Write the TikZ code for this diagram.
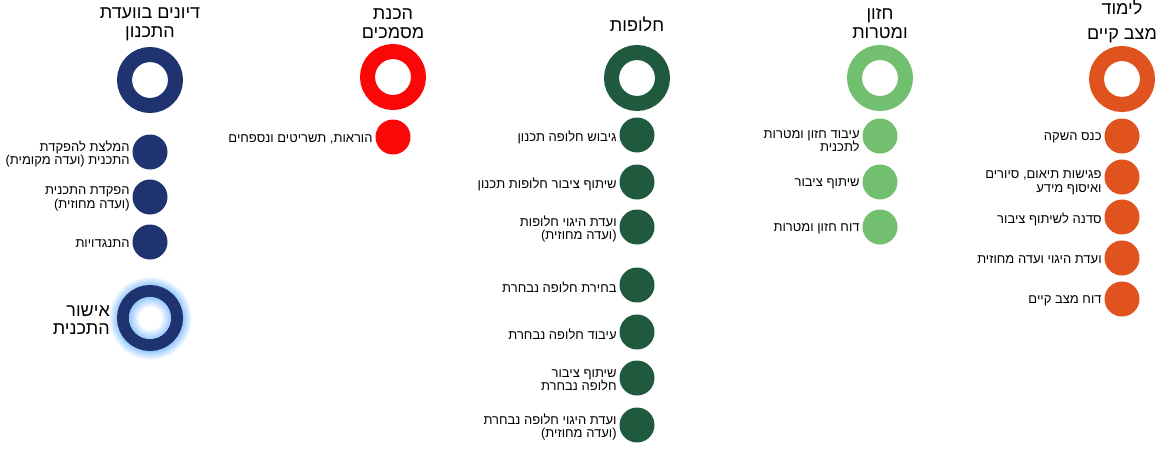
\documentclass[tikz,border=0pt]{standalone}
\usepackage{fontspec}
\usetikzlibrary{positioning}
\TeXXeTstate=1
\newfontfamily\hebfont[Script=Hebrew]{Liberation Sans}
\newcommand{\rl}[1]{\beginR #1\endR}
\definecolor{navy}{RGB}{31,51,112}
\definecolor{redstep}{RGB}{250,8,8}
\definecolor{darkgreen}{RGB}{31,90,62}
\definecolor{lightgreen}{RGB}{114,192,111}
\definecolor{orangestep}{RGB}{224,82,30}
\definecolor{glowblue}{RGB}{150,200,252}
\pgfdeclareradialshading{glowout}{\pgfpoint{0bp}{0bp}}{color(0bp)=(glowblue); color(19.5bp)=(glowblue); color(25bp)=(white); color(50bp)=(white)}
\pgfdeclareradialshading{glowin}{\pgfpoint{0bp}{0bp}}{color(0bp)=(white); color(13bp)=(white); color(25bp)=(glowblue); color(50bp)=(glowblue)}
\tikzset{
  ring/.style={circle, draw=#1, line width=15pt, minimum size=51pt, inner sep=0pt},
  stepdot/.style={circle, fill=#1, minimum size=35pt, inner sep=0pt},
  lbl/.style={align=right, inner sep=0pt, yshift=-2pt, font=\hebfont\fontsize{13}{13.5}\selectfont},
  ttl/.style={align=center, inner sep=0pt, font=\hebfont\fontsize{18}{19}\selectfont}
}
\begin{document}
\begin{tikzpicture}[x=1pt, y=-1pt]
\useasboundingbox[fill=white] (0,0) rectangle (1170,450);
% column 1
\node[ttl] (tDiyun) at (150,24) {\rl{דיונים בוועדת}\\\rl{התכנון}};
\node[ring=navy] (rDiyun) at (150,80) {};
\node[stepdot=navy] (dDiyun1) at (150,152) {};
\node[stepdot=navy] (dDiyun2) at (150,197) {};
\node[stepdot=navy] (dDiyun3) at (150,242) {};
\node[lbl, left=2.5pt of dDiyun1] (lDiyun1) {\rl{המלצת להפקדת}\\\rl{התכנית (ועדה מקומית)}};
\node[lbl, left=2.5pt of dDiyun2] (lDiyun2) {\rl{הפקדת התכנית}\\\rl{(ועדה מחוזית)}};
\node[lbl, left=2.5pt of dDiyun3] (lDiyun3) {\rl{התנגדויות}};
\shade[shading=glowout] (150,318) circle (42);
\node[ring=navy, line width=12pt, minimum size=54pt] (rIshur) at (150,318) {};
\shade[shading=glowin] (rIshur.center) circle (21);
\node[lbl, font=\hebfont\fontsize{18}{18}\selectfont, left=7pt of rIshur] (lIshur) {\rl{אישור}\\\rl{התכנית}};
% column 2
\node[ttl] (tHachana) at (393,24) {\rl{הכנת}\\\rl{מסמכים}};
\node[ring=redstep] (rHachana) at (393,77) {};
\node[stepdot=redstep] (dHachana1) at (393,137) {};
\node[lbl, left=2.5pt of dHachana1] (lHachana1) {\rl{הוראות, תשריטים ונספחים}};
% column 3
\node[ttl] (tHalufot) at (637,24) {\rl{חלופות}};
\node[ring=darkgreen] (rHalufot) at (637,78) {};
\node[stepdot=darkgreen] (dHalufot1) at (637,135) {};
\node[stepdot=darkgreen] (dHalufot2) at (637,182) {};
\node[stepdot=darkgreen] (dHalufot3) at (637,227) {};
\node[stepdot=darkgreen] (dHalufot4) at (637,285) {};
\node[stepdot=darkgreen] (dHalufot5) at (637,332) {};
\node[stepdot=darkgreen] (dHalufot6) at (637,378) {};
\node[stepdot=darkgreen] (dHalufot7) at (637,425) {};
\node[lbl, left=2.5pt of dHalufot1] (lHalufot1) {\rl{גיבוש חלופה תכנון}};
\node[lbl, left=2.5pt of dHalufot2] (lHalufot2) {\rl{שיתוף ציבור חלופות תכנון}};
\node[lbl, left=2.5pt of dHalufot3] (lHalufot3) {\rl{ועדת היגוי חלופות}\\\rl{(ועדה מחוזית)}};
\node[lbl, left=2.5pt of dHalufot4] (lHalufot4) {\rl{בחירת חלופה נבחרת}};
\node[lbl, left=2.5pt of dHalufot5] (lHalufot5) {\rl{עיבוד חלופה נבחרת}};
\node[lbl, left=2.5pt of dHalufot6] (lHalufot6) {\rl{שיתוף ציבור}\\\rl{חלופה נבחרת}};
\node[lbl, left=2.5pt of dHalufot7] (lHalufot7) {\rl{ועדת היגוי חלופה נבחרת}\\\rl{(ועדה מחוזית)}};
% column 4
\node[ttl] (tHazon) at (880,24) {\rl{חזון}\\\rl{ומטרות}};
\node[ring=lightgreen] (rHazon) at (880,78) {};
\node[stepdot=lightgreen] (dHazon1) at (880,136) {};
\node[stepdot=lightgreen] (dHazon2) at (880,182) {};
\node[stepdot=lightgreen] (dHazon3) at (880,227) {};
\node[lbl, left=2.5pt of dHazon1, yshift=-3pt] (lHazon1) {\rl{עיבוד חזון ומטרות}\\\rl{לתכנית}};
\node[lbl, left=2.5pt of dHazon2] (lHazon2) {\rl{שיתוף ציבור}};
\node[lbl, left=2.5pt of dHazon3] (lHazon3) {\rl{דוח חזון ומטרות}};
% column 5
\node[ttl, font=\hebfont\fontsize{18}{25}\selectfont] (tLimud) at (1122,21) {\rl{לימוד}\\\rl{מצב קיים}};
\node[ring=orangestep] (rLimud) at (1122,79) {};
\node[stepdot=orangestep] (dLimud1) at (1122,136) {};
\node[stepdot=orangestep] (dLimud2) at (1122,177) {};
\node[stepdot=orangestep] (dLimud3) at (1122,217) {};
\node[stepdot=orangestep] (dLimud4) at (1122,258) {};
\node[stepdot=orangestep] (dLimud5) at (1122,299) {};
\node[lbl, left=2.5pt of dLimud1] (lLimud1) {\rl{כנס השקה}};
\node[lbl, left=2.5pt of dLimud2, yshift=-4pt] (lLimud2) {\rl{פגישות תיאום, סיורים}\\\rl{ואיסוף מידע}};
\node[lbl, left=2.5pt of dLimud3] (lLimud3) {\rl{סדנה לשיתוף ציבור}};
\node[lbl, left=2.5pt of dLimud4] (lLimud4) {\rl{ועדת היגוי ועדה מחוזית}};
\node[lbl, left=2.5pt of dLimud5] (lLimud5) {\rl{דוח מצב קיים}};
\end{tikzpicture}
\end{document}
